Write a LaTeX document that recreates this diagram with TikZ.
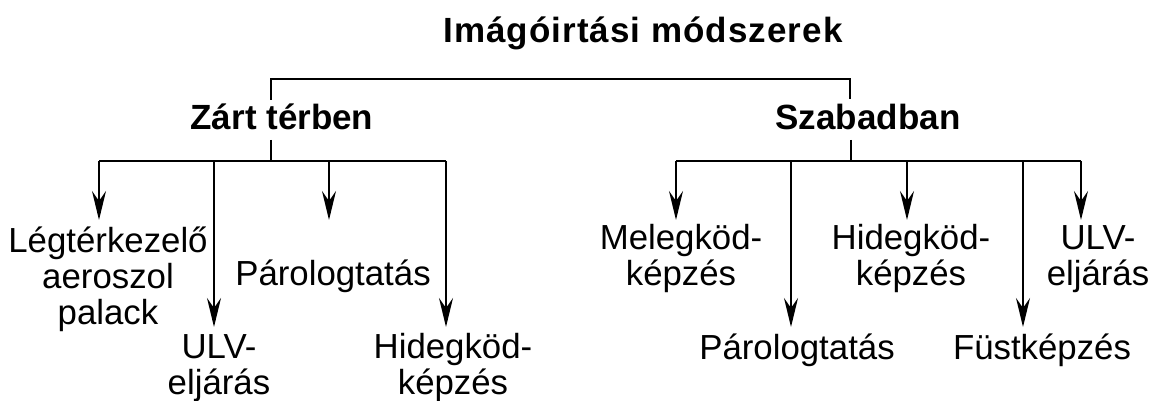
\documentclass[tikz,border=0pt]{standalone}
\usepackage{fontspec}
\setmainfont{Liberation Sans}
\usetikzlibrary{arrows.meta}
\begin{document}
\begin{tikzpicture}[x=1pt,y=-1pt,
  line width=2pt,
  titletext/.style={font=\fontsize{35}{38}\selectfont\bfseries\addfontfeature{LetterSpace=3}, inner sep=0pt},
  headtext/.style={font=\fontsize{35}{38}\selectfont\bfseries, inner sep=0pt},
  leaf/.style={font=\fontsize{34.8}{36}\selectfont, align=center, inner sep=0pt},
  arr/.style={-{Stealth[length=29pt,width=14pt,inset=10pt]}}
]
\useasboundingbox (0,0) rectangle (1152,401);

% headings
\node[titletext] (title) at (643,33) {Imágóirtási módszerek};
\node[headtext] (zart) at (282,117) {Zárt térben};
\node[headtext] (szab) at (868,117) {Szabadban};

% leaves, indoor branch
\node[leaf] (legter) at (108,279) {Légtérkezelő\\aeroszol\\palack};
\node[leaf] (ulvL)   at (219,368) {ULV-\\eljárás};
\node[leaf] (parL)   at (333,276) {Párologtatás};
\node[leaf] (hidL)   at (453,368) {Hidegköd-\\képzés};

% leaves, outdoor branch
\node[leaf] (meleg)  at (681,259) {Melegköd-\\képzés};
\node[leaf] (parR)   at (797,350) {Párologtatás};
\node[leaf] (hidR)   at (911,259) {Hidegköd-\\képzés};
\node[leaf] (fust)   at (1042,350) {Füstképzés};
\node[leaf] (ulvR)   at (1098,259) {ULV-\\eljárás};

% top bracket
\coordinate (zartTop) at (271,100);
\coordinate (szabTop) at (850,99);
\coordinate (topBar)  at (560,79);
\draw (zartTop) |- (topBar) -| (szabTop);

% indoor branch
\coordinate (zartBot) at (271,140);
\coordinate (lbar)    at (271,161);
\coordinate (l1) at (99,161);  \coordinate (t1) at (99,220);
\coordinate (l2) at (214,161); \coordinate (t2) at (214,327);
\coordinate (l3) at (329,161); \coordinate (t3) at (329,220);
\coordinate (l4) at (446,161); \coordinate (t4) at (446,327);
\draw (zartBot) -- (lbar);
\draw (l1) -- (l4);
\draw[arr] (l1) -- (t1);
\draw[arr] (l2) -- (t2);
\draw[arr] (l3) -- (t3);
\draw[arr] (l4) -- (t4);

% outdoor branch
\coordinate (szabBot) at (851,140);
\coordinate (rbar)    at (851,161);
\coordinate (r1) at (676,161);  \coordinate (u1) at (676,220);
\coordinate (r2) at (791,161);  \coordinate (u2) at (791,327);
\coordinate (r3) at (907,161);  \coordinate (u3) at (907,220);
\coordinate (r4) at (1023,161); \coordinate (u4) at (1023,327);
\coordinate (r5) at (1081,161); \coordinate (u5) at (1081,220);
\draw (szabBot) -- (rbar);
\draw (r1) -- (r5);
\draw[arr] (r1) -- (u1);
\draw[arr] (r2) -- (u2);
\draw[arr] (r3) -- (u3);
\draw[arr] (r4) -- (u4);
\draw[arr] (r5) -- (u5);
\end{tikzpicture}
\end{document}
